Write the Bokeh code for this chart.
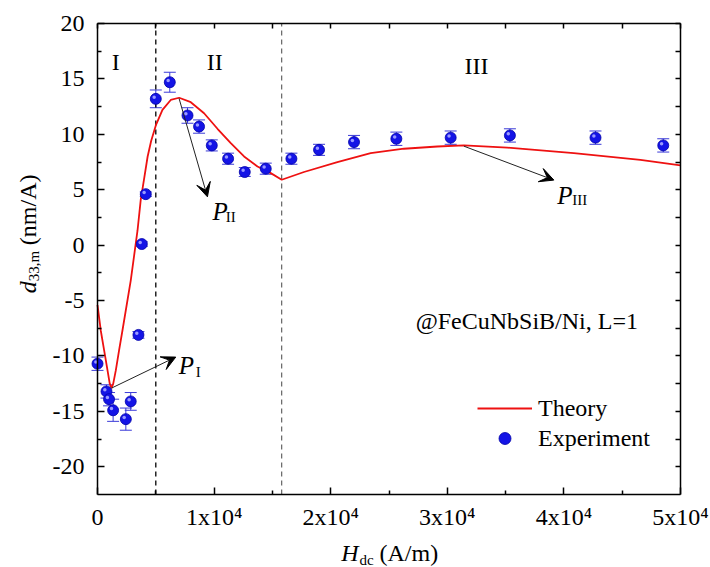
import math
from bokeh.plotting import figure
from bokeh.models import (Range1d, LinearAxis, FixedTicker, ColumnDataSource, Whisker,
                          TeeHead, Arrow, VeeHead, Label, Legend, LegendItem)
from bokeh.transform import dodge
from bokeh.embed import file_html
from bokeh.resources import INLINE

# ---------------- data ----------------
exp_h = [0, 770, 990, 1340, 2430, 2850, 3510, 3800, 4140, 5000, 6200, 7720, 8710, 9800,
         11200, 12630, 14430, 16630, 19000, 22000, 25630, 30290, 35370, 42710, 48520]
exp_d = [-10.7, -13.2, -13.9, -14.9, -15.7, -14.1, -8.1, 0.1, 4.6, 13.2, 14.7, 11.7, 10.7, 9.0,
         7.8, 6.6, 6.9, 7.8, 8.6, 9.3, 9.6, 9.7, 9.9, 9.7, 9.0]
exp_err = [0.6, 0.6, 0.6, 1.0, 1.0, 0.8, 0.3, 0.2, 0.2, 0.8, 0.9, 0.7, 0.6, 0.5,
           0.5, 0.4, 0.5, 0.5, 0.5, 0.6, 0.6, 0.6, 0.6, 0.6, 0.6]

theory_h = [0, 280, 570, 860, 1050, 1200, 1350, 1570, 1850, 2140, 2850, 3430, 3710, 4000, 4300,
            4600, 5000, 5570, 6280, 7000, 8000, 9140, 10290, 11430, 12570, 13720, 14860,
            15800, 17710, 20570, 23430, 26280, 29150, 31430, 35150, 40850, 46560, 50000]
theory_d = [-5.4, -7.7, -9.5, -11.3, -12.5, -12.9, -12.5, -11.3, -9.5, -7.7, -3.2, 1.3, 4.1, 6.0, 8.0,
            9.4, 10.8, 12.2, 13.1, 13.3, 12.9, 11.9, 10.5, 9.2, 8.0, 7.1, 6.5,
            5.9, 6.6, 7.5, 8.3, 8.7, 8.9, 9.0, 8.8, 8.3, 7.7, 7.2]

x_ticks = [0, 10000, 20000, 30000, 40000, 50000]
x_minor = [5000, 15000, 25000, 35000, 45000]
x_tick_labels = ["0", "1x10\u2074", "2x10\u2074", "3x10\u2074", "4x10\u2074", "5x10\u2074"]
y_ticks = [-20, -15, -10, -5, 0, 5, 10, 15, 20]
y_minor = [-17.5, -12.5, -7.5, -2.5, 2.5, 7.5, 12.5, 17.5]
y_tick_labels = ["-20", "-15", "-10", "-5", "0", "5", "10", "15", "20"]
x_lim = (0, 50000)
y_lim = (-22.5, 20)
region_bounds = [5000, 15800]
region_names = ["I", "II", "III"]
region_label_h = [1570, 10060, 32500]
region_label_d = [16.5, 16.5, 16.2]

FONT = "Liberation Serif"
INK = "black"

# plot box inside the 710x567 canvas (pixels)
BOX_L, BOX_R, BOX_T, BOX_B = 97, 680, 23, 494
W, H = 710, 567
sx = (BOX_R - BOX_L) / (x_lim[1] - x_lim[0])
sy = (BOX_B - BOX_T) / (y_lim[1] - y_lim[0])
xr = Range1d(x_lim[0] - BOX_L / sx, x_lim[1] + (W - BOX_R) / sx)
yr = Range1d(y_lim[0] - (H - BOX_B) / sy, y_lim[1] + BOX_T / sy)

p = figure(width=W, height=H, x_range=xr, y_range=yr, output_backend="svg", toolbar_location=None,
           x_axis_location=None, y_axis_location=None, min_border=0)
p.grid.visible = False
p.background_fill_color = "white"
p.border_fill_color = "white"
p.outline_line_color = None


def style_axis(ax):
    ax.axis_line_width = 1.5
    ax.axis_line_color = INK
    ax.major_tick_in = 7
    ax.major_tick_out = 0
    ax.minor_tick_in = 4
    ax.minor_tick_out = 0
    ax.major_tick_line_width = 1.5
    ax.minor_tick_line_width = 1.5
    ax.major_tick_line_color = INK
    ax.minor_tick_line_color = INK
    ax.major_label_text_font = FONT
    ax.major_label_text_color = INK
    ax.major_label_text_font_size = "24px"


xb = LinearAxis(fixed_location=y_lim[0], bounds=x_lim,
                ticker=FixedTicker(ticks=x_ticks, minor_ticks=x_minor))
style_axis(xb)
xb.major_label_overrides = {t: l for t, l in zip(x_ticks, x_tick_labels)}
xb.major_label_standoff = 9
p.add_layout(xb, "below")

yl = LinearAxis(fixed_location=x_lim[0], bounds=y_lim,
                ticker=FixedTicker(ticks=y_ticks, minor_ticks=y_minor))
style_axis(yl)
yl.major_label_overrides = {t: l for t, l in zip(y_ticks, y_tick_labels)}
yl.major_label_standoff = 13
p.add_layout(yl, "left")

xt = LinearAxis(fixed_location=y_lim[1], bounds=x_lim,
                ticker=FixedTicker(ticks=[], minor_ticks=x_ticks + x_minor))
style_axis(xt)
xt.minor_tick_in = 5
p.add_layout(xt, "above")

yrt = LinearAxis(fixed_location=x_lim[1], bounds=y_lim,
                 ticker=FixedTicker(ticks=[], minor_ticks=y_ticks + y_minor))
style_axis(yrt)
yrt.minor_tick_in = 5
p.add_layout(yrt, "right")

# region dividers
p.segment(x0=region_bounds, y0=[y_lim[0]] * 2, x1=region_bounds, y1=[y_lim[1]] * 2,
          line_color=["black", "#444444"], line_width=[1.3, 1.0], line_dash="5 4")

# theory
r_line = p.line(theory_h, theory_d, line_color="#ee1111", line_width=1.8)

# experiment
src = ColumnDataSource(dict(h=exp_h, d=exp_d,
                            up=[d + e for d, e in zip(exp_d, exp_err)],
                            lo=[d - e for d, e in zip(exp_d, exp_err)]))
wk = Whisker(base="h", upper="up", lower="lo", source=src, line_color="#3a3ad8", line_width=1,
             upper_head=TeeHead(size=12, line_color="#3a3ad8", line_width=1),
             lower_head=TeeHead(size=12, line_color="#3a3ad8", line_width=1), level="underlay")
p.add_layout(wk)
r_pts = p.scatter("h", "d", source=src, size=11, fill_color="#1414e6", line_color="#0000a8",
                  line_width=0.8)
p.scatter(dodge("h", -140), dodge("d", 0.15), source=src, size=3.5, fill_color="#9a9aff",
          line_color=None)


def label(x, y, text, size, italic=False, **kw):
    p.add_layout(Label(x=x, y=y, text=text, text_font=FONT, text_font_size=size,
                       text_font_style="italic" if italic else "normal",
                       text_baseline="alphabetic", text_color=INK, **kw))


# region labels
for n, hx, dy in zip(region_names, region_label_h, region_label_d):
    label(hx, dy, n, "24px", text_align="center")

# arrows
arrows = [((1200, -12.9), (6712, -10.1)), ((6995, 13.24), (9429, 4.36)), ((31425, 8.93), (39140, 5.87))]
for (x0, y0), (x1, y1) in arrows:
    p.add_layout(Arrow(x_start=x0, y_start=y0, x_end=x1, y_end=y1, line_color="#222222", line_width=1,
                       end=VeeHead(size=14, fill_color="black", line_color="black")))

# P labels
plabels = [((6969, -10.83), (8426, -11.46), "I"),
           ((9858, 3.0), (10998, 2.55), "II"),
           ((39431, 4.51), (40717, 4.06), "III")]
for (px, py), (qx, qy), sub in plabels:
    label(px, py, "P", "25px", italic=True)
    label(qx, qy, sub, "15px")

label(27284, -6.83, "@FeCuNbSiB/Ni, L=1", "24px")

# axis titles (with subscripts)
label(20899, -27.82, "H", "24px", italic=True)
label(22467, -28.37, "dc", "15px")
label(24185, -27.82, "(A/m)", "24px")

ang = math.pi / 2
label(-5975, -4.33, "d", "24px", italic=True, angle=ang)
label(-5460, -3.25, "33,m", "15px", angle=ang)
label(-5975, 0.0, "(nm/A)", "24px", angle=ang)

legend = Legend(items=[LegendItem(label="Theory", renderers=[r_line]),
                       LegendItem(label="Experiment", renderers=[r_pts])],
                location=(477, 114), label_text_font=FONT, label_text_font_size="24px",
                label_text_color=INK,
                label_height=30, glyph_height=30, glyph_width=55, spacing=0, padding=0, margin=0,
                label_standoff=6, border_line_color=None, background_fill_alpha=0)
p.add_layout(legend)

open("out.html", "w").write(file_html(p, INLINE))
